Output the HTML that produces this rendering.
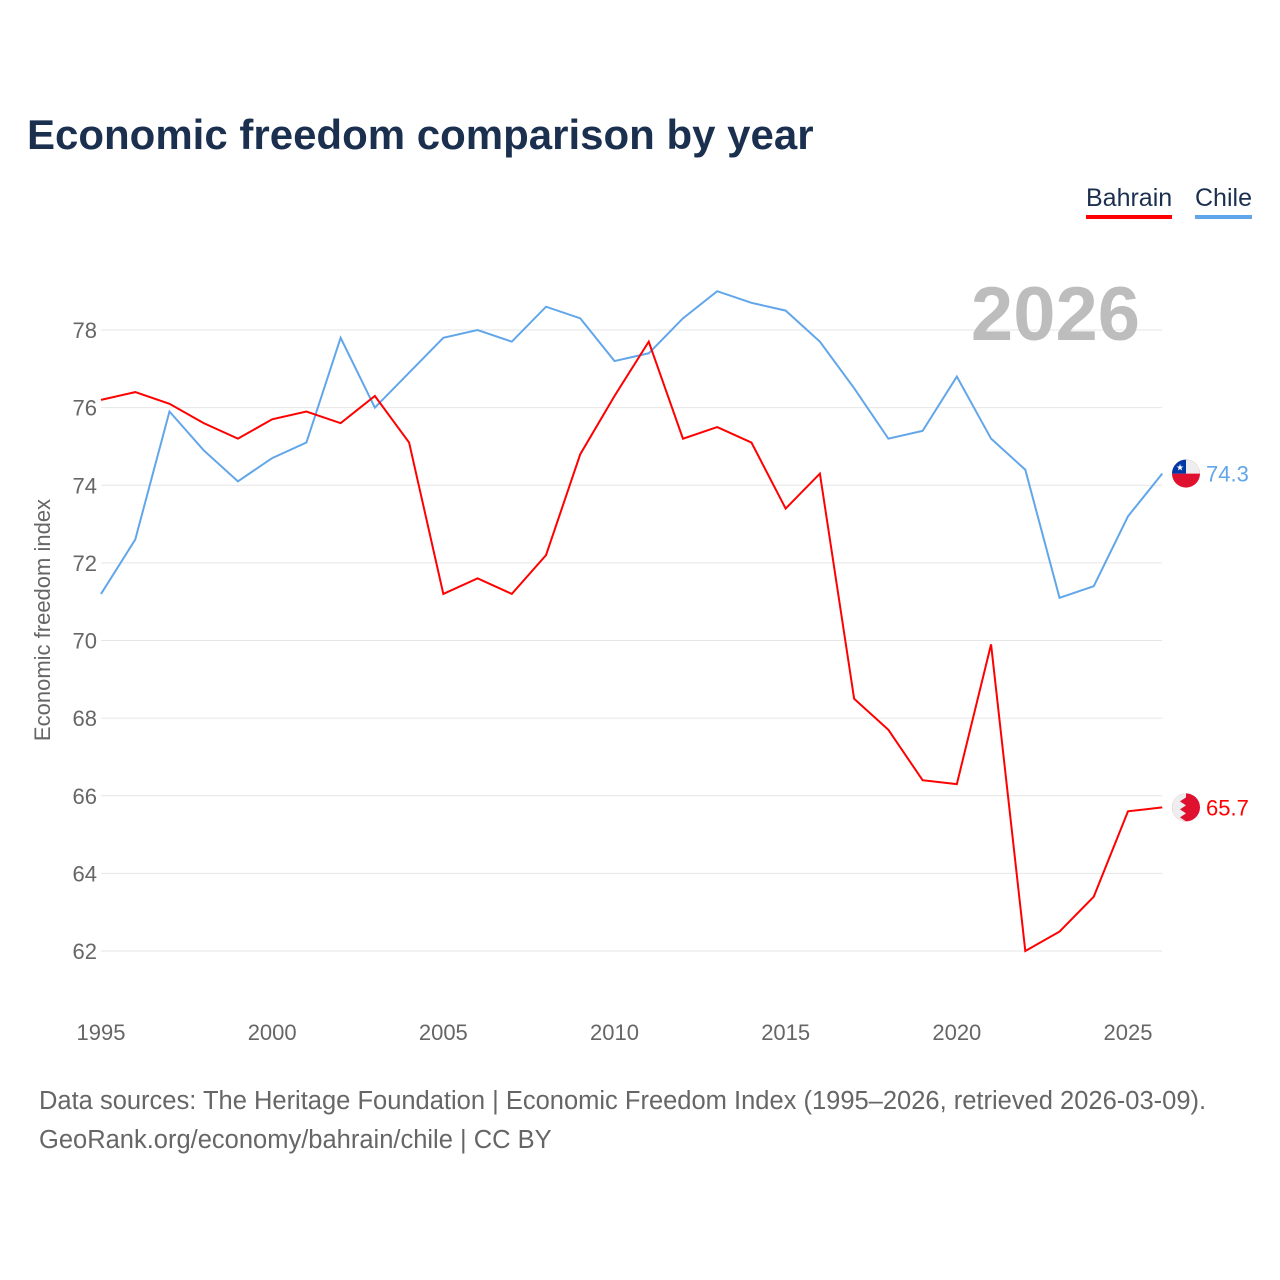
<!DOCTYPE html>
<html><head><meta charset="utf-8"><style>
body{margin:0;background:#fff;font-family:"Liberation Sans",sans-serif;}
#wrap{position:relative;width:1280px;height:1280px;overflow:hidden;}
h1{position:absolute;left:27px;top:111px;margin:0;font-size:42px;color:#1b2f4f;font-weight:bold;}
.leg{position:absolute;top:184px;font-size:25px;color:#1b2f4f;padding-bottom:2px;}
.src{position:absolute;left:39px;font-size:25.5px;color:#666;}
</style></head><body><div id="wrap">
<h1>Economic freedom comparison by year</h1>
<div class="leg" style="left:1086px;border-bottom:4px solid #f00">Bahrain</div>
<div class="leg" style="left:1195px;border-bottom:4px solid #62a6ea">Chile</div>
<svg id="chart" width="1280" height="1280" style="position:absolute;left:0;top:0"></svg>
<div class="src" style="top:1087px">Data sources: The Heritage Foundation | Economic Freedom Index (1995–2026, retrieved 2026-03-09).</div>
<div class="src" style="top:1126px">GeoRank.org/economy/bahrain/chile | CC BY</div>
</div>
<script>
const years=[1995,1996,1997,1998,1999,2000,2001,2002,2003,2004,2005,2006,2007,2008,2009,2010,2011,2012,2013,2014,2015,2016,2017,2018,2019,2020,2021,2022,2023,2024,2025,2026];
const bahrain=[76.2,76.4,76.1,75.6,75.2,75.7,75.9,75.6,76.3,75.1,71.2,71.6,71.2,72.2,74.8,76.3,77.7,75.2,75.5,75.1,73.4,74.3,68.5,67.7,66.4,66.3,69.9,62.0,62.5,63.4,65.6,65.7];
const chile=[71.2,72.6,75.9,74.9,74.1,74.7,75.1,77.8,76.0,76.9,77.8,78.0,77.7,78.6,78.3,77.2,77.4,78.3,79.0,78.7,78.5,77.7,76.5,75.2,75.4,76.8,75.2,74.4,71.1,71.4,73.2,74.3];
const yTicks=[62,64,66,68,70,72,74,76,78];
const xTicks=[1995,2000,2005,2010,2015,2020,2025];
const NS="http://www.w3.org/2000/svg";
const svg=document.getElementById('chart');
const x=v=>101+(v-1995)*(1128-101)/30;
const y=v=>951-(v-62)*(951-330)/16;
function el(t,a,txt){const e=document.createElementNS(NS,t);for(const k in a)e.setAttribute(k,a[k]);if(txt!=null)e.textContent=txt;svg.appendChild(e);return e;}
yTicks.forEach(t=>{
 const g=el('line',{x1:101,x2:1162,y1:y(t),y2:y(t),stroke:'#e6e6e6','stroke-width':1});
 
 
 const l=el('text',{x:97,y:y(t)+8,'text-anchor':'end','font-size':22,fill:'#666'},t);
 
 
});
xTicks.forEach(t=>{
 const l=el('text',{x:x(t),y:1040,'text-anchor':'middle','font-size':22,fill:'#666'},t);
 
 
});
const yt=el('text',{transform:'translate(50,620) rotate(-90)','text-anchor':'middle','font-size':22,fill:'#666'},'Economic freedom index');


const yr=el('text',{x:1140,y:340,'text-anchor':'end','font-size':76,'font-weight':'bold',fill:'#bdbdbd'},'2026');


function series(arr,col,name){
 const p=el('polyline',{points:arr.map((v,i)=>x(years[i])+','+y(v)).join(' '),fill:'none',stroke:col,'stroke-width':2});
 
 
 const last=arr[arr.length-1];
 const c=el('circle',{cx:1186,cy:y(last),r:14,fill:'#e0102f'});
 
 
 const t=el('text',{x:1206,y:y(last)+8,'font-size':22,fill:col},last.toFixed(1));
 
 
}
series(chile,'#62a6ea','chile');
series(bahrain,'#ff0000','bahrain');
const cy=y(chile[chile.length-1]);
el('path',{d:`M1172,${cy} A14,14 0 0 1 1200,${cy} Z`,fill:'#eee'});
el('path',{d:`M1172,${cy} A14,14 0 0 1 1186,${cy-14} L1186,${cy} Z`,fill:'#0039a6'});
el('text',{x:1180,y:cy-3,'font-size':9,fill:'#fff','text-anchor':'middle'},'★');
const by=y(bahrain[bahrain.length-1]);
el('path',{d:`M1186,${by-14} A14,14 0 0 0 1186,${by+14} L1180,${by+10} L1186,${by+6} L1180,${by+2} L1186,${by-2} L1180,${by-6} L1186,${by-10} Z`,fill:'#eee'});
</script></body></html>
